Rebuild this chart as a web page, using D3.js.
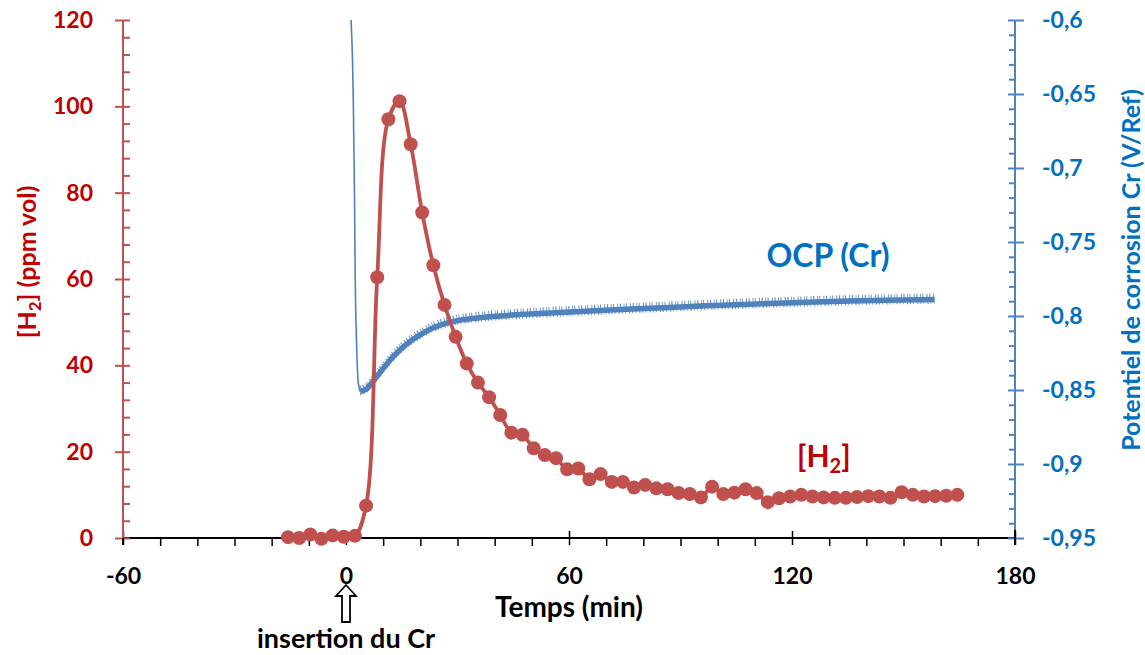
<!DOCTYPE html>
<html>
<head>
<meta charset="utf-8">
<script src="https://cdn.jsdelivr.net/npm/d3@7"></script>
<style>
body { margin: 0; background: #fff; }
text { font-family: Lato, "Open Sans", sans-serif; font-weight: bold; }
</style>
</head>
<body>
<script>
// [H2] measurements (ppm vol) vs time (min)
var h2Time = [-15.6, -12.6, -9.6, -6.6, -3.6, -0.6, 2.4, 5.4, 8.4, 11.4, 14.4, 17.4, 20.5, 23.5, 26.5, 29.5,
  32.5, 35.5, 38.5, 41.5, 44.5, 47.5, 50.5, 53.5, 56.5, 59.5, 62.5, 65.5, 68.5, 71.5, 74.5, 77.5,
  80.5, 83.5, 86.5, 89.5, 92.5, 95.5, 98.5, 101.5, 104.5, 107.5, 110.5, 113.5, 116.5, 119.5, 122.5, 125.5,
  128.5, 131.5, 134.5, 137.5, 140.5, 143.5, 146.5, 149.5, 152.5, 155.5, 158.5, 161.5, 164.5]
var h2Value = [0.2, 0.0, 0.8, -0.2, 0.6, 0.3, 0.5, 7.5, 60.4, 97.0, 101.2, 91.2, 75.4, 63.2, 54.0, 46.6,
  40.4, 36.0, 32.6, 28.5, 24.4, 23.9, 20.8, 19.2, 18.5, 15.9, 16.1, 13.6, 14.8, 13.0, 13.0, 11.7,
  12.3, 11.5, 11.3, 10.4, 10.2, 9.4, 11.9, 10.2, 10.5, 11.3, 10.4, 8.3, 9.2, 9.6, 10.0, 9.6,
  9.4, 9.3, 9.3, 9.5, 9.7, 9.6, 9.3, 10.6, 10.0, 9.6, 9.7, 9.8, 10.0]

// OCP of Cr (V/Ref): fast drop right after insertion, then the noisy recovery
var ocpDropTime = [1.35, 1.75, 1.96, 2.3, 2.45, 2.9, 3.3, 3.8]
var ocpDropValue = [-0.6, -0.627, -0.654, -0.722, -0.767, -0.823, -0.845, -0.851]
var ocpTime = [3.8, 5.6, 7.3, 10.0, 12.7, 16.3, 19.9, 23.5, 27.1, 30.7, 34.2, 37.9, 43.5, 49.5,
  57.6, 68.3, 81.8, 95.2, 108.7, 122.1, 135.6, 149.0, 158.4]
var ocpValue = [-0.851, -0.849, -0.844, -0.8355, -0.8275, -0.819, -0.8128, -0.808, -0.8048, -0.8028,
  -0.8016, -0.8007, -0.7996, -0.7987, -0.7976, -0.7963, -0.7948, -0.7933, -0.792, -0.7909, -0.7899,
  -0.7892, -0.7889]

// tick labels
var xTicks = [-60, 0, 60, 120, 180]
var leftTicks = [0, 20, 40, 60, 80, 100, 120]
var rightTicks = [-0.95, -0.9, -0.85, -0.8, -0.75, -0.7, -0.65, -0.6]

var red = "#C0504D", darkRed = "#C00000", blue = "#4F81BD", darkBlue = "#0070C0"

var width = 1145, height = 655
var plotLeft = 123, plotRight = 1015, plotTop = 20, plotBottom = 538

var svg = d3.select("body").append("svg")
  .attr("width", width)
  .attr("height", height)

var xScale = d3.scaleLinear().domain([-60, 180]).range([plotLeft, plotRight])
var yLeft = d3.scaleLinear().domain([0, 120]).range([plotBottom, plotTop])
var yRight = d3.scaleLinear().domain([-0.95, -0.6]).range([plotBottom, plotTop])

function clean(g) {
  g.select(".domain").remove()
}

// ---- x axis
var xMinor = d3.range(-60, 181, 10).filter(function(d) { return d % 60 != 0 })
svg.append("g")
  .attr("transform", "translate(0," + plotBottom + ")")
  .call(d3.axisBottom(xScale).tickValues(xMinor).tickSize(8).tickFormat(""))
  .call(clean)
  .selectAll("line").attr("stroke", "#000").attr("stroke-width", 1.5)

var xAx = svg.append("g")
  .attr("transform", "translate(0," + plotBottom + ")")
  .call(d3.axisBottom(xScale).tickValues(xTicks).tickSize(0).tickPadding(28)
    .tickFormat(function(d) { return String(d) }))
  .call(clean)
xAx.selectAll(".tick line").attr("y1", -7).attr("y2", 7).attr("stroke", "#000").attr("stroke-width", 1.5)
xAx.selectAll("text").attr("fill", "#000").attr("font-size", 23).attr("dy", "0.35em").attr("y", 38)

svg.append("line")
  .attr("x1", plotLeft).attr("x2", plotRight).attr("y1", plotBottom).attr("y2", plotBottom)
  .attr("stroke", "#000").attr("stroke-width", 2)

// ---- left axis
var leftMinor = d3.range(0, 121, 4).filter(function(d) { return d % 20 != 0 })
svg.append("g")
  .attr("transform", "translate(" + plotLeft + ",0)")
  .call(d3.axisRight(yLeft).tickValues(leftMinor).tickSize(7).tickFormat(""))
  .call(clean)
  .selectAll("line").attr("stroke", red).attr("stroke-width", 2)

var lAx = svg.append("g")
  .attr("transform", "translate(" + plotLeft + ",0)")
  .call(d3.axisLeft(yLeft).tickValues(leftTicks).tickSize(0).tickPadding(30)
    .tickFormat(function(d) { return String(d) }))
  .call(clean)
lAx.selectAll(".tick line").attr("x1", -8).attr("x2", 7).attr("stroke", red).attr("stroke-width", 2)
lAx.selectAll("text").attr("fill", darkRed).attr("font-size", 23)

svg.append("line")
  .attr("x1", plotLeft).attr("x2", plotLeft).attr("y1", plotTop).attr("y2", plotBottom)
  .attr("stroke", red).attr("stroke-width", 2)

// ---- right axis
var rightMinor = d3.range(-95, -59, 1).filter(function(d) { return d % 5 != 0 }).map(function(d) { return d / 100 })
svg.append("g")
  .attr("transform", "translate(" + plotRight + ",0)")
  .call(d3.axisLeft(yRight).tickValues(rightMinor).tickSize(6).tickFormat(""))
  .call(clean)
  .selectAll("line").attr("stroke", blue).attr("stroke-width", 2)

var rAx = svg.append("g")
  .attr("transform", "translate(" + plotRight + ",0)")
  .call(d3.axisRight(yRight).tickValues(rightTicks).tickSize(0).tickPadding(27)
    .tickFormat(function(d) { return String(+d.toFixed(2)).replace(".", ",") }))
  .call(clean)
rAx.selectAll(".tick line").attr("x1", -7).attr("x2", 9).attr("stroke", blue).attr("stroke-width", 2)
rAx.selectAll("text").attr("fill", darkBlue).attr("font-size", 23)

svg.append("line")
  .attr("x1", plotRight).attr("x2", plotRight).attr("y1", plotTop).attr("y2", plotBottom)
  .attr("stroke", blue).attr("stroke-width", 2)

// black corner ticks at the bottom of both y axes
svg.append("line").attr("x1", plotLeft).attr("x2", plotLeft).attr("y1", plotBottom).attr("y2", plotBottom + 7)
  .attr("stroke", "#000").attr("stroke-width", 2)
svg.append("line").attr("x1", plotRight).attr("x2", plotRight).attr("y1", plotBottom - 8).attr("y2", plotBottom + 7)
  .attr("stroke", "#000").attr("stroke-width", 2)

// ---- OCP curve
var ocpDrop = ocpDropTime.map(function(t, i) { return [t, ocpDropValue[i]] })
var ocp = ocpTime.map(function(t, i) { return [t, ocpValue[i]] })
var ocpLine = d3.line()
  .x(function(d) { return xScale(d[0]) })
  .y(function(d) { return yRight(d[1]) })
  .curve(d3.curveMonotoneX)

svg.append("path")
  .datum(ocpDrop)
  .attr("d", ocpLine)
  .attr("fill", "none")
  .attr("stroke", blue)
  .attr("stroke-width", 1.6)

// fuzzy fringes of the noisy signal
svg.append("path")
  .datum(ocp)
  .attr("d", ocpLine)
  .attr("transform", "translate(0,-4)")
  .attr("fill", "none")
  .attr("stroke", blue)
  .attr("stroke-width", 4)
  .attr("stroke-dasharray", "1 1.7 1.2 2.6 0.8 1.4 1 3.2")
  .attr("opacity", 0.85)
svg.append("path")
  .datum(ocp)
  .attr("d", ocpLine)
  .attr("transform", "translate(0,3)")
  .attr("fill", "none")
  .attr("stroke", blue)
  .attr("stroke-width", 2.5)
  .attr("stroke-dasharray", "1 2.3 0.8 3.1 1.2 1.9")
  .attr("opacity", 0.8)

svg.append("path")
  .datum(ocp)
  .attr("d", ocpLine)
  .attr("fill", "none")
  .attr("stroke", blue)
  .attr("stroke-width", 5.5)
  .attr("stroke-linejoin", "round")

// ---- H2 curve
var h2 = h2Time.map(function(t, i) { return [t, h2Value[i]] })
var h2Line = d3.line()
  .x(function(d) { return xScale(d[0]) })
  .y(function(d) { return yLeft(d[1]) })
  .curve(d3.curveCatmullRom.alpha(0.5))

svg.append("path")
  .datum(h2)
  .attr("d", h2Line)
  .attr("fill", "none")
  .attr("stroke", red)
  .attr("stroke-width", 3.8)

svg.append("g").selectAll("circle")
  .data(h2)
  .enter().append("circle")
  .attr("cx", function(d) { return xScale(d[0]) })
  .attr("cy", function(d) { return yLeft(d[1]) })
  .attr("r", 7)
  .attr("fill", red)

// ---- titles and annotations
svg.append("text")
  .attr("transform", "translate(27,262) rotate(-90)")
  .attr("text-anchor", "middle")
  .attr("dy", "0.35em")
  .attr("font-size", 25)
  .attr("fill", darkRed)
  .call(function(t) {
    t.append("tspan").text("[H")
    t.append("tspan").attr("font-size", 17).attr("dy", 5).text("2")
    t.append("tspan").attr("dy", -5).text("] (ppm vol)")
  })

svg.append("text")
  .attr("transform", "translate(1131,270) rotate(-90)")
  .attr("text-anchor", "middle")
  .attr("dy", "0.35em")
  .attr("font-size", 25)
  .attr("fill", darkBlue)
  .text("Potentiel de corrosion Cr (V/Ref)")

svg.append("text")
  .attr("x", xScale(60)).attr("y", 607)
  .attr("text-anchor", "middle")
  .attr("dy", "0.35em")
  .attr("font-size", 28)
  .attr("fill", "#000")
  .text("Temps (min)")

svg.append("text")
  .attr("x", xScale(0)).attr("y", 639)
  .attr("text-anchor", "middle")
  .attr("dy", "0.35em")
  .attr("font-size", 27)
  .attr("fill", "#000")
  .text("insertion du Cr")

svg.append("text")
  .attr("x", 828).attr("y", 256)
  .attr("text-anchor", "middle")
  .attr("dy", "0.35em")
  .attr("font-size", 32)
  .attr("fill", darkBlue)
  .text("OCP (Cr)")

svg.append("text")
  .attr("x", 797).attr("y", 467)
  .attr("font-size", 30)
  .attr("fill", darkRed)
  .call(function(t) {
    t.append("tspan").text("[H")
    t.append("tspan").attr("font-size", 20).attr("dy", 6).text("2")
    t.append("tspan").attr("dy", -6).text("]")
  })

// hollow arrow under 0
var ax = xScale(0)
var arrow = [[ax, 585], [ax + 10, 596], [ax + 4, 596], [ax + 4, 622], [ax - 4, 622], [ax - 4, 596], [ax - 10, 596]]
svg.append("path")
  .attr("d", d3.line()(arrow) + "Z")
  .attr("fill", "#fff")
  .attr("stroke", "#000")
  .attr("stroke-width", 1.8)
</script>
</body>
</html>
